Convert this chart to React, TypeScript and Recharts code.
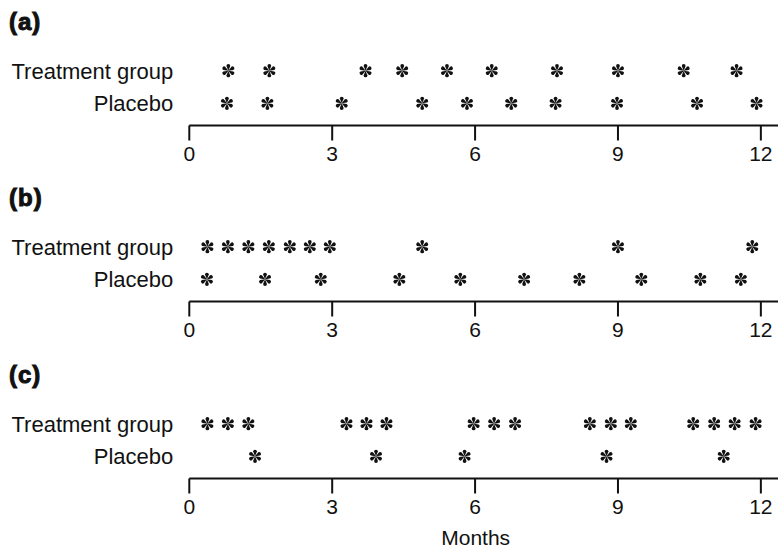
import { ScatterChart, Scatter, XAxis, YAxis, Label } from "recharts";

// event times in months
const monthTicks = [0, 3, 6, 9, 12];
const rowTicks = [1, 2];
const rowNames: Record<number, string> = { 1: "Placebo", 2: "Treatment group" };

const treatmentA = [0.82, 1.68, 3.7, 4.47, 5.41, 6.35, 7.72, 9.0, 10.38, 11.49];
const placeboA = [0.79, 1.64, 3.2, 4.89, 5.83, 6.76, 7.69, 8.98, 10.66, 11.91];

const treatmentB = [0.38, 0.81, 1.24, 1.67, 2.11, 2.53, 2.95, 4.89, 9.0, 11.82];
const placeboB = [0.37, 1.59, 2.76, 4.41, 5.69, 7.03, 8.19, 9.49, 10.73, 11.58];

const treatmentC = [
  0.38, 0.81, 1.24, 3.3, 3.72, 4.14, 5.97, 6.4, 6.84, 8.41, 8.85, 9.27, 10.58, 11.02, 11.45, 11.89,
];
const placeboC = [1.38, 3.92, 5.78, 8.76, 11.22];

const FONT = '"Liberation Sans", Arial, Helvetica, sans-serif';
const INK = "#111";

// one teardrop spoke, pointing up
const arm = "M0,0 L-1.9,-4.7 A1.9,1.9 0 1,1 1.9,-4.7 Z";

const Asterisk = (props: any) => {
  const { cx, cy } = props;
  if (cx == null || cy == null) return null;
  return (
    <g transform={`translate(${cx},${cy})`} fill={INK}>
      {[0, 60, 120, 180, 240, 300].map((a) => (
        <path key={a} d={arm} transform={`rotate(${a})`} />
      ))}
    </g>
  );
};

type PanelProps = {
  title: string;
  treatment: number[];
  placebo: number[];
  top: number;
  showMonths?: boolean;
};

const Panel = ({ title, treatment, placebo, top, showMonths }: PanelProps) => {
  const axisHeight = showMonths ? 72 : 50;
  const height = 50.4 + 71.1 + axisHeight + 4.5;
  const treatData = treatment.map((m) => ({ month: m, row: 2 }));
  const placData = placebo.map((m) => ({ month: m, row: 1 }));

  return (
    <div style={{ position: "absolute", left: 0, top, width: 778, height }}>
      <ScatterChart
        width={778}
        height={height}
        margin={{ top: 50.4, right: 0, bottom: 4.5, left: 0 }}
      >
        <XAxis
          type="number"
          dataKey="month"
          domain={[0, 12.36]}
          ticks={monthTicks}
          allowDataOverflow
          height={axisHeight}
          tickSize={15}
          tickMargin={6}
          axisLine={{ stroke: INK, strokeWidth: 2 }}
          tickLine={{ stroke: INK, strokeWidth: 2 }}
          tick={{ fill: INK, fontSize: 21, fontFamily: FONT }}
        >
          {showMonths && (
            <Label
              value="Months"
              position="insideBottom"
              offset={6}
              dx={-8}
              style={{ fill: INK, fontSize: 21, fontFamily: FONT }}
            />
          )}
        </XAxis>
        <YAxis
          type="number"
          dataKey="row"
          domain={[0.32, 2.5]}
          ticks={rowTicks}
          width={189.3}
          axisLine={false}
          tickLine={false}
          tickSize={0}
          tickMargin={16}
          tickFormatter={(v: number) => rowNames[v] ?? ""}
          tick={{ fill: INK, fontSize: 22, fontFamily: FONT }}
        />
        <Scatter data={treatData} shape={<Asterisk />} isAnimationActive={false} />
        <Scatter data={placData} shape={<Asterisk />} isAnimationActive={false} />
      </ScatterChart>
      <div
        style={{
          position: "absolute",
          left: 9,
          top: 5,
          fontFamily: FONT,
          fontWeight: 900,
          fontSize: 24,
          lineHeight: "26px",
          letterSpacing: 1,
          color: INK,
          WebkitTextStroke: `1px ${INK}`,
        }}
      >
        {title}
      </div>
    </div>
  );
};

export default function App() {
  return (
    <div
      style={{
        position: "absolute",
        left: 0,
        top: 0,
        width: 778,
        height: 547,
        background: "#fff",
        overflow: "hidden",
      }}
    >
      <Panel title="(a)" treatment={treatmentA} placebo={placeboA} top={4} />
      <Panel title="(b)" treatment={treatmentB} placebo={placeboB} top={180} />
      <Panel title="(c)" treatment={treatmentC} placebo={placeboC} top={356.6} showMonths />
    </div>
  );
}
